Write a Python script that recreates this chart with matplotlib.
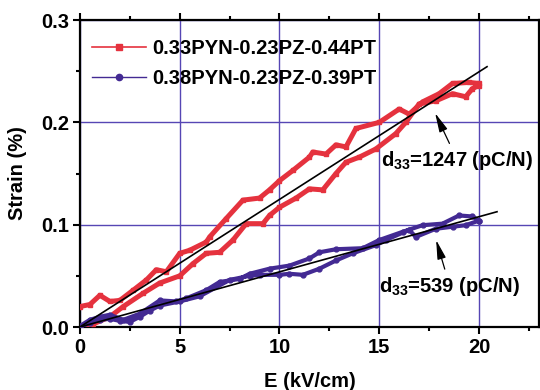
import matplotlib
matplotlib.use("Agg")
import matplotlib.pyplot as plt
from matplotlib.lines import Line2D
import numpy as np

plt.rcParams['font.family'] = ['Liberation Sans', 'DejaVu Sans']
plt.rcParams['font.weight'] = 'bold'
plt.rcParams['mathtext.fontset'] = 'custom'
plt.rcParams['mathtext.rm'] = 'Liberation Sans:bold'
plt.rcParams['mathtext.bf'] = 'Liberation Sans:bold'
plt.rcParams['mathtext.it'] = 'Liberation Sans:bold'

# ---- data: 0.33PYN-0.23PZ-0.44PT (red) ----
red_up_E = [0, 0.67, 1.5, 2.17, 3.17, 4.0, 5.0, 5.67, 6.33, 7.0, 7.67, 8.33, 9.17, 9.5,
            10.0, 10.83, 11.5, 12.17, 12.83, 13.33, 14.0, 14.83, 15.83, 16.33, 17.0,
            17.83, 18.67, 19.33, 19.67, 20.0]
red_up_S = [0.0, 0.003, 0.010, 0.020, 0.033, 0.043, 0.050, 0.062, 0.072, 0.073, 0.085,
            0.101, 0.101, 0.109, 0.117, 0.126, 0.135, 0.134, 0.150, 0.161, 0.166, 0.174,
            0.189, 0.200, 0.218, 0.221, 0.228, 0.225, 0.233, 0.236]
red_down_E = [20.0, 19.5, 18.67, 18.0, 17.17, 16.5, 16.0, 15.0, 13.83, 13.33, 12.83,
              12.33, 11.67, 11.5, 10.67, 10.0, 9.5, 9.0, 8.17, 7.33, 6.5, 6.33, 5.5, 5.0,
              4.33, 3.83, 3.33, 2.67, 2.0, 1.5, 1.0, 0.5, 0.0]
red_down_S = [0.238, 0.239, 0.238, 0.228, 0.220, 0.208, 0.213, 0.200, 0.194, 0.176,
              0.178, 0.169, 0.171, 0.166, 0.153, 0.143, 0.134, 0.126, 0.124, 0.106,
              0.088, 0.083, 0.075, 0.072, 0.054, 0.056, 0.046, 0.036, 0.026, 0.025,
              0.031, 0.022, 0.020]

# ---- data: 0.38PYN-0.23PZ-0.39PT (blue) ----
blue_up_E = [0, 0.5, 1.0, 1.5, 2.0, 2.5, 3.0, 3.5, 4.0, 5.0, 6.0, 7.5, 8.5, 9.0, 10.0,
             10.5, 11.17, 12.0, 12.83, 13.67, 14.83, 15.33, 16.5, 16.83, 17.83, 18.67,
             19.33, 20.0]
blue_up_S = [0.0, 0.004, 0.007, 0.008, 0.006, 0.005, 0.010, 0.016, 0.021, 0.025, 0.030,
             0.046, 0.050, 0.051, 0.051, 0.052, 0.051, 0.057, 0.065, 0.072, 0.080, 0.085,
             0.095, 0.088, 0.096, 0.098, 0.0995, 0.104]
blue_down_E = [20.0, 19.67, 19.0, 18.17, 17.17, 16.17, 15.0, 14.17, 12.83, 12.0, 11.5,
               10.5, 9.5, 8.5, 8.0, 7.0, 6.33, 5.33, 4.83, 4.0, 3.0, 2.17, 1.5, 1.0,
               0.5, 0.0]
blue_down_S = [0.104, 0.108, 0.109, 0.101, 0.0995, 0.093, 0.085, 0.077, 0.076, 0.073,
               0.067, 0.060, 0.057, 0.052, 0.047, 0.044, 0.036, 0.028, 0.025, 0.026,
               0.013, 0.007, 0.012, 0.010, 0.007, 0.001]

# linear fits (slope from d33)
red_d33 = 1247
blue_d33 = 539
red_fit_E = [0, 20.4]
blue_fit_E = [0, 20.9]

labels = ['0.33PYN-0.23PZ-0.44PT', '0.38PYN-0.23PZ-0.39PT']
red_c = '#e5323e'
blue_c = '#432a93'
grid_c = '#5646b4'

fig = plt.figure(figsize=(5.4, 3.9), dpi=100)
ax = fig.add_axes([0.148, 0.1615, 0.850, 0.7872])

ax.plot(red_up_E + red_down_E, red_up_S + red_down_S, color=red_c, lw=3.6,
        marker='s', ms=3.5, zorder=3)
ax.plot(blue_up_E + blue_down_E, blue_up_S + blue_down_S, color=blue_c, lw=3.0,
        marker='o', ms=3.5, zorder=3)

rE = np.array(red_fit_E)
bE = np.array(blue_fit_E)
ax.plot(rE, rE * red_d33 * 1e-5, color='black', lw=1.2, zorder=4)
ax.plot(bE, bE * blue_d33 * 1e-5, color='black', lw=1.2, zorder=4)

ax.set_xlim(0, 23)
ax.set_ylim(0, 0.3)
ax.set_xticks([0, 5, 10, 15, 20])
ax.set_yticks([0.0, 0.1, 0.2, 0.3])
ax.set_yticklabels(['0.0', '0.1', '0.2', '0.3'])
ax.set_xticks([2.5, 7.5, 12.5, 17.5, 22.5], minor=True)
ax.set_yticks([0.05, 0.15, 0.25], minor=True)
ax.grid(True, which='major', color=grid_c, lw=1.0, zorder=1)
ax.set_axisbelow(True)

for s in ax.spines.values():
    s.set_linewidth(1.6)
ax.tick_params(which='major', direction='out', length=5, width=1.5, labelsize=14.5,
               pad=3, top=True, right=True)
ax.tick_params(which='minor', direction='out', length=3, width=1.5, top=True, right=True)
for lab in ax.get_xticklabels() + ax.get_yticklabels():
    lab.set_fontweight('bold')

ax.set_xlabel('E (kV/cm)', fontsize=14.5, fontweight='bold', labelpad=11)
ax.set_ylabel('Strain (%)', fontsize=14.5, fontweight='bold', labelpad=10)

handles = [Line2D([], [], color=red_c, lw=1.2, marker='s', ms=5),
           Line2D([], [], color=blue_c, lw=1.0, marker='o', ms=4.5)]
leg = ax.legend(handles, labels, loc='upper left', bbox_to_anchor=(-0.005, 0.985),
                frameon=False, prop={'weight': 'bold', 'size': 14.5},
                handlelength=2.7, handletextpad=0.3, labelspacing=0.55,
                borderaxespad=0.3)

ann_kw = dict(fontsize=14.5, fontweight='bold', ha='left', va='center',
              arrowprops=dict(arrowstyle='-|>,head_length=0.8,head_width=0.18',
                              color='black', lw=0.9, shrinkA=2, shrinkB=0))
ax.annotate(r'd$_{33}$=1247 (pC/N)', xy=(17.8, 0.209), xytext=(15.1, 0.163),
            **ann_kw)
ax.annotate(r'd$_{33}$=539 (pC/N)', xy=(17.85, 0.085), xytext=(15.0, 0.040),
            **ann_kw)

fig.savefig('out.png', dpi=100)
